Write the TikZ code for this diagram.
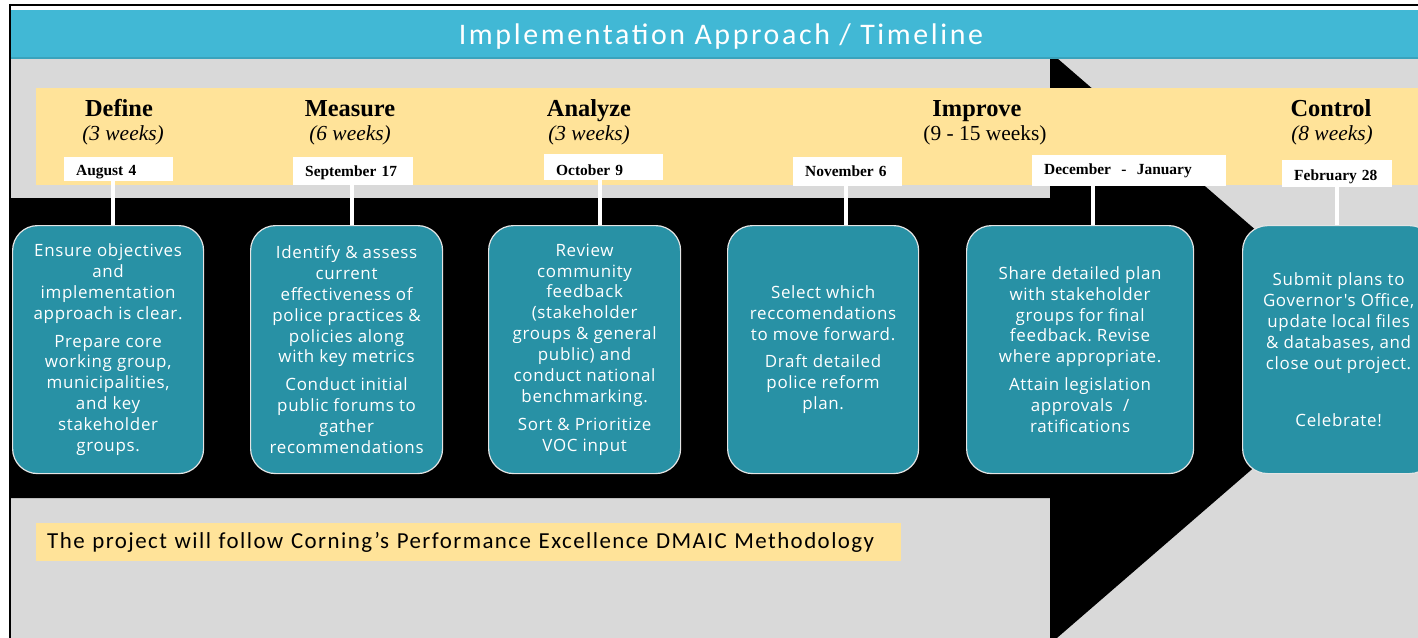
\documentclass[tikz,border=0pt]{standalone}
\usepackage{fontspec}
\setmainfont{Liberation Serif}
\newfontfamily\titlefont[LetterSpace=8.8]{Carlito}
\newfontfamily\notefont[LetterSpace=6.3]{Carlito}
\newfontfamily\boxfont[LetterSpace=4]{Open Sans}
\definecolor{titleblue}{HTML}{41B8D5}
\definecolor{titledark}{HTML}{3AA3BC}
\definecolor{bggray}{HTML}{D9D9D9}
\definecolor{bandyellow}{HTML}{FFE399}
\definecolor{tealbox}{HTML}{2891A5}
\definecolor{boxedge}{HTML}{E4E4E4}
\frenchspacing
\begin{document}
\begin{tikzpicture}[x=1bp,y=-1bp,
  stepbox/.style={draw=boxedge, line width=1.2bp, fill=tealbox, rounded corners=25bp,
    anchor=north west, minimum height=248bp, align=center, text=white, inner sep=0pt,
    font=\boxfont\fontsize{17}{21}\selectfont},
  datebox/.style={fill=white, inner xsep=12bp, inner ysep=0pt, align=left, anchor=north west,
    font=\bfseries\fontsize{15.5}{18}\selectfont},
  phase/.style={anchor=base, font=\bfseries\fontsize{24.5}{28}\selectfont},
  weeks/.style={anchor=base, font=\itshape\fontsize{21.5}{26}\selectfont},
  conn/.style={draw=white, line width=3.5bp}
]
\useasboundingbox (0,0) rectangle (1418,638);
\clip (0,0) rectangle (1418,638);
\fill[white] (0,0) rectangle (1418,638);
\fill[bggray] (11,59) rectangle (1418,638);
% big arrow
\fill[black] (11,198) -- (1050,198) -- (1050,52) -- (1392,348) -- (1050,644) -- (1050,498) -- (11,498) -- cycle;
% title bar
\fill[titleblue] (11,10) rectangle (1418,59);
\draw[titledark, line width=2bp] (11,58) -- (1418,58);
\draw[black, line width=2bp] (9,5) -- (1418,5);
\draw[black, line width=2bp] (10,4) -- (10,638);
\node[font=\titlefont\fontsize{30}{34}\selectfont, text=white] (title) at (721,37) {Implementation Approach / Timeline};
% yellow band
\fill[bandyellow] (36,88) rectangle (1418,185);
% phases
\node[phase] (p1) at (119,117) {Define};
\node[weeks] (w1) at (123,141) {(3 weeks)};
\node[phase] (p2) at (350,117) {Measure};
\node[weeks] (w2) at (350,141) {(6 weeks)};
\node[phase] (p3) at (589,117) {Analyze};
\node[weeks] (w3) at (589,141) {(3 weeks)};
\node[phase] (p4) at (977,117) {Improve};
\node[anchor=base, font=\fontsize{21.5}{26}\selectfont] (w4) at (985,141) {(9 - 15 weeks)};
\node[phase] (p5) at (1331,117) {Control};
\node[weeks] (w5) at (1332,141) {(8 weeks)};
% date boxes
\node[datebox, text width=85bp, text height=18bp, text depth=6bp] (d1) at (64,157) {August 4};
\node[datebox, text width=96bp, text height=19.5bp, text depth=8.5bp] (d2) at (293,157) {September 17};
\node[datebox, text width=95bp, text height=21bp, text depth=5bp] (d3) at (544,154) {October 9};
\node[datebox, text width=85bp, text height=19bp, text depth=10bp] (d4) at (793,157) {November 6};
\node[datebox, text width=170bp, text height=19bp, text depth=12bp] (d5) at (1032,155) {December \ -\ \ January};
\node[datebox, text width=86bp, text height=20bp, text depth=7bp] (d6) at (1282,160) {February 28};
% teal boxes
\node[stepbox, minimum width=191bp] (b1) at (12,225) {Ensure objectives\\and\\implementation\\approach is clear.\\[7bp]Prepare core\\working group,\\municipalities,\\and key\\stakeholder\\groups.};
\node[stepbox, minimum width=192bp] (b2) at (250,225) {Identify \& assess\\current\\effectiveness of\\police practices \&\\policies along\\with key metrics\\[7bp]Conduct initial\\public forums to\\gather\\recommendations};
\node[stepbox, minimum width=192bp] (b3) at (488,225) {Review\\community\\feedback\\(stakeholder\\groups \& general\\public) and\\conduct national\\benchmarking.\\[7bp]Sort \& Prioritize\\VOC input};
\node[stepbox, minimum width=191bp] (b4) at (727,225) {Select which\\reccomendations\\to move forward.\\[7bp]Draft detailed\\police reform\\plan.};
\node[stepbox, minimum width=227bp] (b5) at (966,225) {Share detailed plan\\with stakeholder\\groups for final\\feedback. Revise\\where appropriate.\\[7bp]Attain legislation\\approvals\ \ /\\ratifications};
\node[stepbox, minimum width=192bp] (b6) at (1242,225) {Submit plans to\\Governor's Office,\\update local files\\\& databases, and\\close out project.\\[36bp]Celebrate!};
% connectors
\coordinate (c1) at (113,0);
\coordinate (c2) at (352,0);
\coordinate (c3) at (600,0);
\coordinate (c4) at (846,0);
\coordinate (c5) at (1093,0);
\coordinate (c6) at (1337,0);
\draw[conn] (d1.south -| c1) -- (b1.north -| c1);
\draw[conn] (d2.south -| c2) -- (b2.north -| c2);
\draw[conn] (d3.south -| c3) -- (b3.north -| c3);
\draw[conn] (d4.south -| c4) -- (b4.north -| c4);
\draw[conn] (d5.south -| c5) -- (b5.north -| c5);
\draw[conn] (d6.south -| c6) -- (b6.north -| c6);
% note
\node[fill=bandyellow, anchor=north west, minimum height=38bp, text width=843bp, inner xsep=11bp, inner ysep=0pt, align=left, font=\notefont\fontsize{23}{27}\selectfont] (note) at (36,523) {The project will follow Corning’s Performance Excellence DMAIC Methodology};
\end{tikzpicture}
\end{document}
